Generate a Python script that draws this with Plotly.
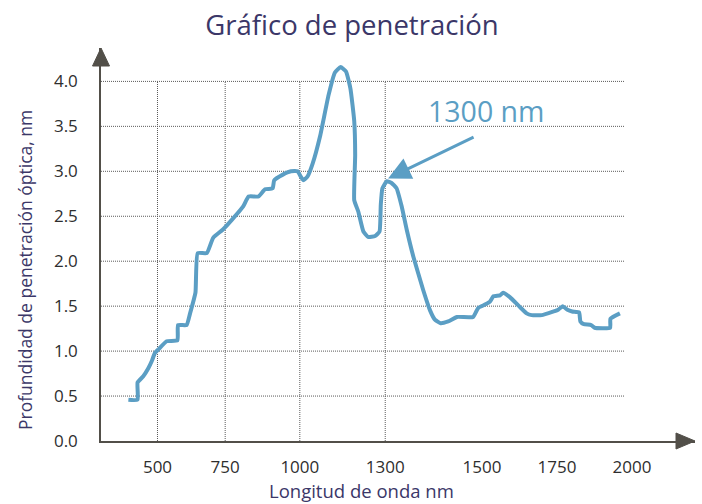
import plotly.graph_objects as go

# ---- data (x in the chart's nominal axis units) ----
wavelength = [408, 437, 437, 455, 471, 482, 492, 503, 529, 563, 565, 592, 603, 620, 627, 656,
              676, 706, 735, 771, 788, 819, 840, 864, 869, 895, 922, 943, 953, 961, 974, 990,
              1014, 1041, 1061, 1079, 1096, 1110, 1122, 1125, 1122, 1135, 1151, 1166, 1188, 1202,
              1206, 1211, 1225, 1240, 1256, 1272, 1288, 1309, 1340, 1362, 1377, 1395, 1419, 1447,
              1498, 1514, 1537, 1551, 1562, 1583, 1593, 1614, 1643, 1667, 1683, 1715, 1751, 1767,
              1781, 1796, 1811, 1833, 1837, 1848, 1871, 1882, 1931, 1932, 1962]
depth = [0.46, 0.46, 0.65, 0.72, 0.81, 0.89, 0.98, 1.02, 1.11, 1.12, 1.29, 1.29, 1.42, 1.65, 2.09, 2.09,
         2.26, 2.35, 2.46, 2.61, 2.72, 2.72, 2.80, 2.81, 2.90, 2.96, 3.00, 3.00, 2.94, 2.90, 2.94, 3.08,
         3.39, 3.85, 4.10, 4.16, 4.11, 3.92, 3.56, 3.18, 2.68, 2.55, 2.33, 2.27, 2.28, 2.33,
         2.63, 2.81, 2.89, 2.87, 2.81, 2.61, 2.35, 2.05, 1.68, 1.45, 1.35, 1.31, 1.33, 1.38,
         1.38, 1.48, 1.52, 1.55, 1.61, 1.62, 1.65, 1.60, 1.50, 1.42, 1.40, 1.40, 1.44, 1.46,
         1.50, 1.46, 1.44, 1.43, 1.33, 1.30, 1.29, 1.26, 1.26, 1.36, 1.42]

x_tick_vals = [500, 714, 950, 1220, 1526, 1763, 2000]
x_tick_text = ["500", "750", "1000", "1300", "1500", "1750", "2000"]
x_grid_vals = [500, 714, 950, 1220]
y_tick_vals = [0, 0.5, 1.0, 1.5, 2.0, 2.5, 3.0, 3.5, 4.0]
y_tick_text = ["0.0", "0.5", "1.0", "1.5", "2.0", "2.5", "3.0", "3.5", "4.0"]

highlight_x, highlight_y = 1229, 2.92
highlight_label = "1300 nm"

# ---- style ----
LINE = "#5b9ec4"
AXIS = "#524f49"
NAVY = "#3b3768"
GRID = "#5a5a5a"
FONT = "Open Sans"

W, H = 702, 504
ML, MR, MT, MB = 101, 7, 48, 63
PW, PH = W - ML - MR, H - MT - MB

X_RANGE = [321.4, 2199.4]
Y_RANGE = [0, 4.3715]
GRID_END = 1978

fig = go.Figure()
fig.add_trace(go.Scatter(x=wavelength, y=depth, mode="lines",
                         line=dict(color=LINE, width=4, shape="spline", smoothing=0.4),
                         hoverinfo="skip"))

shapes = []
for v in y_tick_vals[1:]:
    shapes.append(dict(type="line", xref="x", yref="y", x0=X_RANGE[0], x1=GRID_END, y0=v, y1=v,
                       line=dict(color=GRID, width=1, dash="1px,1px"), layer="below"))
for v in x_grid_vals:
    shapes.append(dict(type="line", xref="x", yref="y", x0=v, x1=v, y0=0, y1=y_tick_vals[-1],
                       line=dict(color=GRID, width=1, dash="1px,1px"), layer="below"))
# arrow heads on the axes
shapes.append(dict(type="path", xref="paper", yref="paper", xsizemode="pixel", ysizemode="pixel",
                   xanchor=1, yanchor=0, path="M -19,-8 L 0,0 L -19,8 Z",
                   fillcolor=AXIS, line=dict(color=AXIS, width=1)))
shapes.append(dict(type="path", xref="paper", yref="paper", xsizemode="pixel", ysizemode="pixel",
                   xanchor=0, yanchor=1, path="M -8.5,-18 L 0,0 L 8.5,-18 Z",
                   fillcolor=AXIS, line=dict(color=AXIS, width=1)))

def px_to_paper(px, py):
    return (px - ML) / PW, (H - MB - py) / PH

xt_x, xt_y = px_to_paper(361, 490)
yt_x, yt_y = px_to_paper(25, 270)

annotations = [
    dict(x=highlight_x, y=highlight_y, xref="x", yref="y", text="", showarrow=True,
         ax=87, ay=-42, arrowhead=2, arrowsize=1.5, arrowwidth=3, arrowcolor=LINE),
    dict(x=1539, y=3.674, xref="x", yref="y", text=highlight_label, showarrow=False,
         font=dict(family=FONT, size=28.5, color=LINE)),
    dict(x=xt_x, y=xt_y, xref="paper", yref="paper", text="Longitud de onda nm",
         showarrow=False, font=dict(family=FONT, size=18.5, color=NAVY),
         xanchor="center", yanchor="middle"),
    dict(x=yt_x, y=yt_y, xref="paper", yref="paper",
         text="Profundidad de penetración óptica, nm", textangle=-90,
         showarrow=False, font=dict(family=FONT, size=17.5, color=NAVY),
         xanchor="center", yanchor="middle"),
]

fig.update_layout(
    width=W, height=H,
    margin=dict(l=ML, r=MR, t=MT, b=MB, autoexpand=False),
    paper_bgcolor="white", plot_bgcolor="white",
    showlegend=False,
    title=dict(text="Gráfico de penetración", xref="container", yref="container",
               x=352 / W, y=1 - 25 / H, xanchor="center", yanchor="middle",
               font=dict(family=FONT, size=27.5, color=NAVY)),
    xaxis=dict(range=X_RANGE, tickvals=x_tick_vals, ticktext=x_tick_text, showgrid=False,
               zeroline=False, showline=True, linecolor=AXIS, linewidth=1.5, ticks="",
               automargin=False,
               ticklabelstandoff=10, tickfont=dict(family=FONT, size=17, color="#2e2e2e")),
    yaxis=dict(range=Y_RANGE, tickvals=y_tick_vals, ticktext=y_tick_text, showgrid=False,
               zeroline=False, showline=True, linecolor=AXIS, linewidth=1.5, ticks="",
               automargin=False,
               ticklabelstandoff=18, tickfont=dict(family=FONT, size=17, color="#2e2e2e")),
    shapes=shapes,
    annotations=annotations,
)

fig.write_html("out.html", config={"displayModeBar": False},
               post_script="document.body.style.margin='0';document.body.style.overflow='hidden';")
